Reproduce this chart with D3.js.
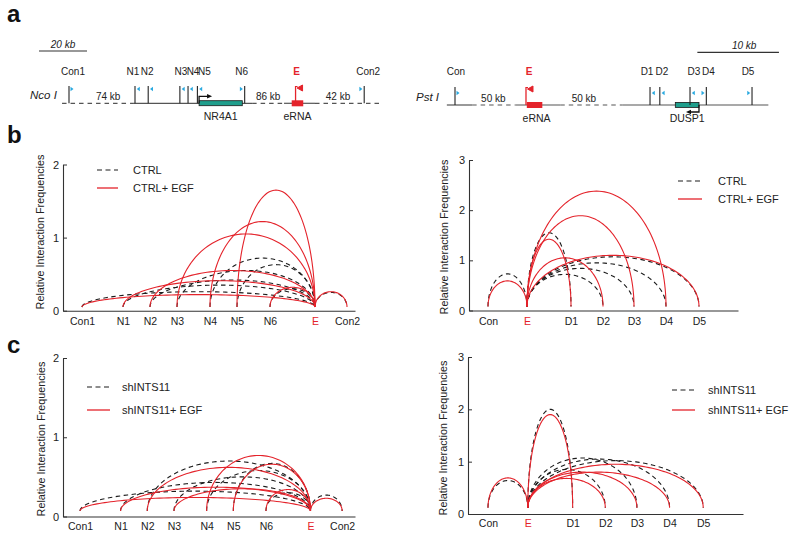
<!DOCTYPE html>
<html><head><meta charset="utf-8">
<script src="https://cdn.jsdelivr.net/npm/d3@7"></script>
<style>body{margin:0;background:#fff} svg{display:block} text{font-family:"Liberation Sans",Arial,sans-serif;}</style>
</head><body><svg id="c" width="800" height="538"></svg>
<script>
// ---------------- DATA ----------------
// 3C panels: sites and their relative genomic (schematic) positions
const leftSites = ["Con1","N1","N2","N3","N4","N5","N6","E","Con2"];
const leftSitePos = [0, 41, 68, 95, 128, 155, 188, 233, 265];
const leftPartners = ["Con1","N1","N2","N3","N4","N5","N6","Con2"];
const rightSites = ["Con","E","D1","D2","D3","D4","D5"];
const rightSitePos = [0, 39, 83, 115, 146, 178, 211];
const rightPartners = ["Con","D1","D2","D3","D4","D5"];

// Relative interaction frequencies with the enhancer (E), arc peaks
const bLeftCtrl   = [0.26, 0.35, 0.42, 0.55, 0.72, 0.63, 0.30, 0.25];
const bLeftEgf    = [0.22, 0.41, 0.55, 1.05, 1.22, 1.65, 0.32, 0.26];
const bRightCtrl  = [0.73, 1.55, 0.72, 0.84, 0.95, 1.07];
const bRightEgf   = [0.59, 1.42, 1.05, 1.89, 2.38, 1.10];
const cLeftSh     = [0.32, 0.43, 0.70, 0.50, 0.58, 0.67, 0.30, 0.27];
const cLeftShEgf  = [0.24, 0.37, 0.62, 0.35, 0.77, 0.66, 0.34, 0.23];
const cRightSh    = [0.64, 2.00, 0.85, 1.07, 1.05, 1.02];
const cRightShEgf = [0.69, 1.90, 0.68, 0.80, 0.80, 0.95];
const leftTicks = [0, 1, 2];
const rightTicks = [0, 1, 2, 3];

// Gene maps (panel a), schematic kb positions
const mapLeftNames = ["Con1","N1","N2","N3","N4","N5","N6","Con2"];
const mapLeftKb    = [0, 27.5, 33, 46.2, 49.6, 53.5, 73.2, 123];
const mapLeftPrimer = ["rr","rl","rl","rl","rl","rl","lr","lr"];
const mapLeftE = 94.4;
const mapLeftSegments = [[-2.9,26.7,"dash"],[26.7,76.3,"solid"],[76.3,89.6,"dash"],[89.6,102.5,"solid"],[102.5,130.4,"dash"]];
const mapLeftGaps = [[16.3,"74 kb"],[83.0,"86 kb"],[112.1,"42 kb"]];
const nr4a1 = [54.2, 72.2];
const eRnaLeft = [92.8, 97.6];

const mapRightNames = ["Con","D1","D2","D3","D4","D5"];
const mapRightKb    = [0, 23.9, 25.1, 28.8, 30.8, 36.4];
const mapRightPrimer = ["rr","rl","rl","rl","lr","lr"];
const mapRightE = 8.7;
const mapRightSegments = [[-1,2.1,"solid"],[2.1,7.4,"dash"],[7.4,12.9,"solid"],[12.9,20.5,"dash"],[20.5,38.4,"solid"]];
const mapRightGaps = [[4.7,"50 kb"],[15.8,"50 kb"]];
const dusp1 = [27.0, 29.9];
const eRnaRight = [8.8, 10.7];

// ---------------- STYLE ----------------
const RED = "#e4232b", DARK = "#222", LINE = "#3a3a3a", TEAL = "#1f9e8c", BLUE = "#29a9e0";
const FONT = "Liberation Sans, Arial, sans-serif";
const svg = d3.select("#c");

// panel letters
[["a",7,22],["b",7,143],["c",7,353]].forEach(([t,x,y]) =>
  svg.append("text").attr("x",x).attr("y",y).attr("font-size",24).attr("font-weight","bold").attr("fill","#111").text(t));

// ---------------- GENE MAPS ----------------
function drawMap(o) {
  const g = svg.append("g");
  const xk = d3.scaleLinear().domain([0,1]).range([o.x0, o.x0 + o.pxPerKb]);
  const by = o.baseY;
  // scale bar
  g.append("line").attr("x1", xk(o.barStart)).attr("x2", xk(o.barStart + o.barKb))
    .attr("y1", o.barY).attr("y2", o.barY).attr("stroke", "#333").attr("stroke-width", 1.2);
  g.append("text").attr("x", (xk(o.barStart) + xk(o.barStart + o.barKb)) / 2 + o.barTextDx).attr("y", o.barY - 3.5)
    .attr("text-anchor","middle").attr("font-size",10).attr("font-style","italic").attr("fill",DARK).text(o.barKb + " kb");
  // enzyme
  g.append("text").attr("x", o.enzX).attr("y", by - 4).attr("font-size", 11.5).attr("font-style","italic")
    .attr("fill", DARK).text(o.enzyme);
  // baseline
  o.segments.forEach(([a,b,t]) => {
    g.append("line").attr("x1", xk(a)).attr("x2", xk(b)).attr("y1", by).attr("y2", by)
      .attr("stroke", "#555").attr("stroke-width", 1.2).attr("stroke-dasharray", t === "dash" ? "4.5,4" : null);
  });
  o.gaps.forEach(([k,t]) => g.append("text").attr("x", xk(k)).attr("y", by - 3).attr("text-anchor","middle")
    .attr("font-size",10).attr("fill",DARK).text(t));
  // gene box
  g.append("rect").attr("x", xk(o.gene[0])).attr("width", xk(o.gene[1]) - xk(o.gene[0]))
    .attr("y", by - 2.6).attr("height", 5).attr("fill", TEAL).attr("stroke", "#1a1a1a").attr("stroke-width", 0.8);
  g.append("text").attr("x", (xk(o.gene[0]) + xk(o.gene[1])) / 2).attr("y", by + 17).attr("text-anchor","middle")
    .attr("font-size",10.5).attr("fill",DARK).text(o.geneName);
  // TSS arrow
  const ax = o.tssDir > 0 ? xk(o.gene[0]) : xk(o.gene[1]);
  const ay = by + o.tssDy;
  const ax2 = ax + o.tssDir * 13;
  g.append("path").attr("d", `M${ax},${by}V${ay}H${ax2 - o.tssDir*3}`).attr("fill","none").attr("stroke","#111").attr("stroke-width",1.3);
  g.append("path").attr("d", `M${ax2},${ay}L${ax2 - o.tssDir*5},${ay-2.3}L${ax2 - o.tssDir*5},${ay+2.3}Z`).attr("fill","#111");
  // eRNA
  g.append("rect").attr("x", xk(o.eRna[0])).attr("width", xk(o.eRna[1]) - xk(o.eRna[0]))
    .attr("y", by - 3).attr("height", 6).attr("fill", RED);
  g.append("text").attr("x", (xk(o.eRna[0]) + xk(o.eRna[1])) / 2 + o.eRnaDx).attr("y", by + 17).attr("text-anchor","middle")
    .attr("font-size",10.5).attr("fill",DARK).text("eRNA");
  const ex = xk(o.eKb);
  g.append("line").attr("x1", ex).attr("x2", ex).attr("y1", o.topY).attr("y2", by).attr("stroke", RED).attr("stroke-width", 1.3);
  g.append("path").attr("d", `M${ex},${o.topY+0.5}H${ex+2}M${ex+1.5},${o.topY+2}L${ex+7},${o.topY-1}L${ex+7},${o.topY+5}Z`)
    .attr("fill", RED).attr("stroke", RED).attr("stroke-width", 1);
  g.append("text").attr("x", ex + o.eLabelDx).attr("y", o.labelY).attr("text-anchor","middle").attr("font-size",10)
    .attr("font-weight","bold").attr("fill",RED).text("E");
  // sites
  o.names.forEach((n,i) => {
    const sx = xk(o.kb[i]);
    g.append("line").attr("x1", sx).attr("x2", sx).attr("y1", o.topY).attr("y2", by).attr("stroke", "#222").attr("stroke-width", 1.1);
    const p = o.primer[i];
    const ty = o.triY;
    let d;
    if (p === "rr") d = `M${sx+1.5},${ty-2.2}L${sx+4.5},${ty}L${sx+1.5},${ty+2.2}Z`;
    else if (p === "rl") d = `M${sx+4.8},${ty-2.2}L${sx+1.8},${ty}L${sx+4.8},${ty+2.2}Z`;
    else d = `M${sx-4.8},${ty-2.2}L${sx-1.8},${ty}L${sx-4.8},${ty+2.2}Z`;
    g.append("path").attr("d", d).attr("fill", BLUE);
    g.append("text").attr("x", sx + o.labelDx[i]).attr("y", o.labelY).attr("text-anchor","middle")
      .attr("font-size",10).attr("fill",DARK).text(n);
  });
}

drawMap({x0: 69, pxPerKb: 2.4, baseY: 103.3, topY: 86, triY: 89, labelY: 75,
  barStart: -12.5, barKb: 20, barY: 51, barTextDx: 0, enzyme: "Nco I", enzX: 30,
  segments: mapLeftSegments, gaps: mapLeftGaps, gene: nr4a1, geneName: "NR4A1", tssDir: 1, tssDy: -7,
  eRna: eRnaLeft, eRnaDx: 0, eKb: mapLeftE, eLabelDx: 1,
  names: mapLeftNames, kb: mapLeftKb, primer: mapLeftPrimer, labelDx: [4,-2,-1,1,5,7,-3,4]});

drawMap({x0: 455, pxPerKb: 8.16, baseY: 105, topY: 87, triY: 93, labelY: 75,
  barStart: 29.7, barKb: 10, barY: 52.3, barTextDx: 6, enzyme: "Pst I", enzX: 416,
  segments: mapRightSegments, gaps: mapRightGaps, gene: dusp1, geneName: "DUSP1", tssDir: -1, tssDy: 7,
  eRna: eRnaRight, eRnaDx: 2, eKb: mapRightE, eLabelDx: 3,
  names: mapRightNames, kb: mapRightKb, primer: mapRightPrimer, labelDx: [1,-3,2,4,2,-4]});

// ---------------- 3C ARC PANELS ----------------
function arcLine(x, y, a, b, peak, base) {
  const xc = (a + b) / 2, r = Math.abs(b - a) / 2;
  const pts = d3.range(0, 81).map(i => {
    const t = Math.PI * i / 80;
    return [xc - r * Math.cos(t), base + (peak - base) * Math.sin(t)];
  });
  return d3.line().x(d => x(d[0])).y(d => y(d[1]))(pts);
}

function drawPanel(p) {
  const g = svg.append("g");
  const x = d3.scaleLinear().domain(p.xDomain).range(p.xRange);
  const y = d3.scaleLinear().domain([0, p.yMax]).range(p.yRange);

  const ya = d3.axisLeft(y).tickValues(p.ticks).tickSize(-4).tickSizeOuter(0).tickPadding(4).tickFormat(d3.format("d"));
  const yg = g.append("g").attr("transform", `translate(${p.xRange[0]},0)`).call(ya);
  const xa = d3.axisBottom(x).tickValues(p.sitePos).tickFormat((d, i) => p.sites[i]).tickSize(0).tickPadding(p.labelPad);
  const xg = g.append("g").attr("transform", `translate(0,${p.yRange[0]})`).call(xa);
  [yg, xg].forEach(a => {
    a.attr("font-family", FONT);
    a.select(".domain").attr("stroke", "#333").attr("stroke-width", 1.1);
    a.selectAll(".tick line").attr("stroke", "#333");
    a.selectAll("text").attr("fill", DARK);
  });
  yg.attr("font-size", 11);
  xg.attr("font-size", 10.5);
  xg.selectAll(".tick text").filter((d, i) => p.sites[i] === "E").attr("fill", RED);

  g.append("text").attr("transform", `translate(${p.titleX},${p.titleY}) rotate(-90)`).attr("text-anchor", "middle")
    .attr("dy", "0.35em").attr("font-size", 10.8).attr("fill", DARK).text("Relative Interaction Frequencies");

  const ePos = p.sitePos[p.sites.indexOf("E")];
  const drawSet = (vals, dashed) => {
    p.partners.forEach((n, i) => {
      const pos = p.sitePos[p.sites.indexOf(n)];
      g.append("path").attr("d", arcLine(x, y, Math.min(pos, ePos), Math.max(pos, ePos), vals[i], p.base))
        .attr("fill", "none").attr("stroke", dashed ? "#1c1c1c" : RED).attr("stroke-width", 1.1)
        .attr("stroke-dasharray", dashed ? "4.5,3.5" : null);
    });
  };
  drawSet(p.ctrl, true);
  drawSet(p.egf, false);

  // legend
  const L = p.legend;
  g.append("line").attr("x1", L.x).attr("x2", L.x + L.w).attr("y1", L.y1).attr("y2", L.y1)
    .attr("stroke", "#1c1c1c").attr("stroke-width", 1.2).attr("stroke-dasharray", "5,3.5");
  g.append("line").attr("x1", L.x).attr("x2", L.x + L.w).attr("y1", L.y2).attr("y2", L.y2)
    .attr("stroke", RED).attr("stroke-width", 1.3);
  g.append("text").attr("x", L.tx).attr("y", L.y1 + 4).attr("font-size", 11).attr("fill", DARK).text(L.t1);
  g.append("text").attr("x", L.tx).attr("y", L.y2 + 4).attr("font-size", 11).attr("fill", DARK).text(L.t2);
}

drawPanel({sites: leftSites, sitePos: leftSitePos, partners: leftPartners, ctrl: bLeftCtrl, egf: bLeftEgf,
  xDomain: [-19, 273], xRange: [63, 355], yMax: 2, yRange: [310.7, 164.5], ticks: leftTicks, labelPad: 6.8, base: 0.05,
  titleX: 40, titleY: 232,
  legend: {x: 97, w: 21, y1: 170, y2: 188, tx: 133, t1: "CTRL", t2: "CTRL+ EGF"}});

drawPanel({sites: rightSites, sitePos: rightSitePos, partners: rightPartners, ctrl: bRightCtrl, egf: bRightEgf,
  xDomain: [-19, 250], xRange: [469, 738], yMax: 3, yRange: [310.5, 160], ticks: rightTicks, labelPad: 7.5, base: 0.08,
  titleX: 444, titleY: 237,
  legend: {x: 678, w: 24, y1: 181, y2: 199, tx: 718, t1: "CTRL", t2: "CTRL+ EGF"}});

drawPanel({sites: leftSites, sitePos: leftSitePos, partners: leftPartners, ctrl: cLeftSh, egf: cLeftShEgf,
  xDomain: [-17.2, 278], xRange: [63, 355], yMax: 2, yRange: [516.5, 358], ticks: leftTicks, labelPad: 6.5, base: 0.07,
  titleX: 41, titleY: 439,
  legend: {x: 87, w: 23, y1: 387, y2: 410, tx: 122, t1: "shINTS11", t2: "shINTS11+ EGF"}});

drawPanel({sites: rightSites, sitePos: rightSitePos, partners: rightPartners, ctrl: cRightSh, egf: cRightShEgf,
  xDomain: [-19.6, 250], xRange: [468, 743], yMax: 3, yRange: [514, 357], ticks: rightTicks, labelPad: 5.5, base: 0.12,
  titleX: 443, titleY: 438,
  legend: {x: 672, w: 23, y1: 390, y2: 410, tx: 708, t1: "shINTS11", t2: "shINTS11+ EGF"}});
</script>
</body></html>
